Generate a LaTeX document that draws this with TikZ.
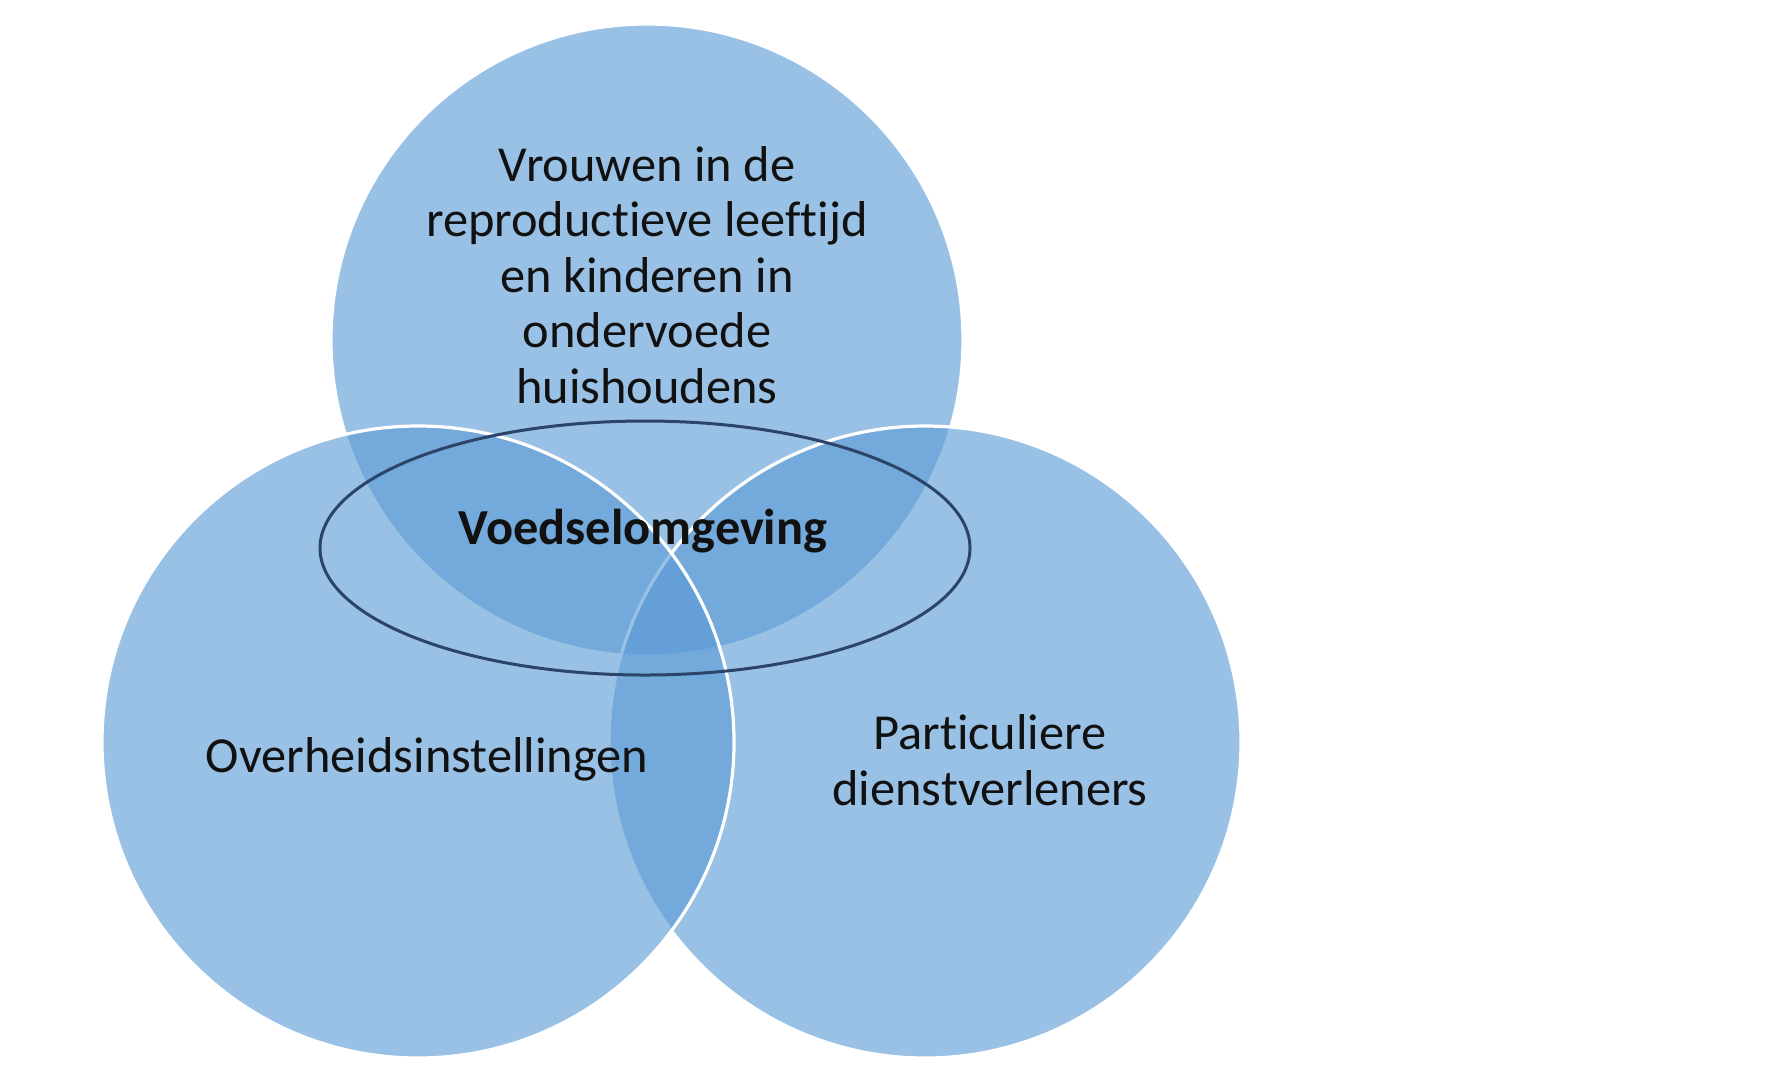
\documentclass[tikz,border=0pt]{standalone}
\usepackage{fontspec}
\setmainfont{Carlito}[Ligatures=NoCommon]
\usetikzlibrary{shapes.geometric}
\definecolor{vennblue}{HTML}{5B9BD5}
\definecolor{ringblue}{HTML}{2B4468}
\definecolor{inkblack}{HTML}{111111}

\begin{document}
\begin{tikzpicture}[x=0.25pt,y=-0.25pt,
    venn/.style={circle,draw=white,line width=0.8pt,fill=vennblue,fill opacity=0.62,minimum size=158pt,inner sep=0pt},
    ring/.style={ellipse,draw=ringblue,line width=0.75pt,minimum width=162.5pt,minimum height=63.5pt,inner sep=0pt},
    vtext/.style={text=inkblack,align=center,font=\fontsize{12.6}{13.9}\selectfont}]
    \useasboundingbox (0,0) rectangle (1772,1072);
    \node[venn] (vrouwen) at (647,340) {};
    \node[venn] (particulier) at (925,742) {};
    \node[venn] (overheid) at (418,742) {};
    \node[ring] (omgeving) at (645,548) {};
    \node[vtext] (vrouwentxt) at (647,275) {Vrouwen in de\\reproductieve leeftijd\\en kinderen in\\ondervoede\\huishoudens};
    \node[vtext,font=\fontsize{12.6}{13.9}\selectfont\bfseries] (omgevingtxt) at (643,531) {Voedselomgeving};
    \node[vtext] (overheidtxt) at (427,759) {Overheidsinstellingen};
    \node[vtext] (particuliertxt) at (990,760) {Particuliere\\dienstverleners};
\end{tikzpicture}
\end{document}
